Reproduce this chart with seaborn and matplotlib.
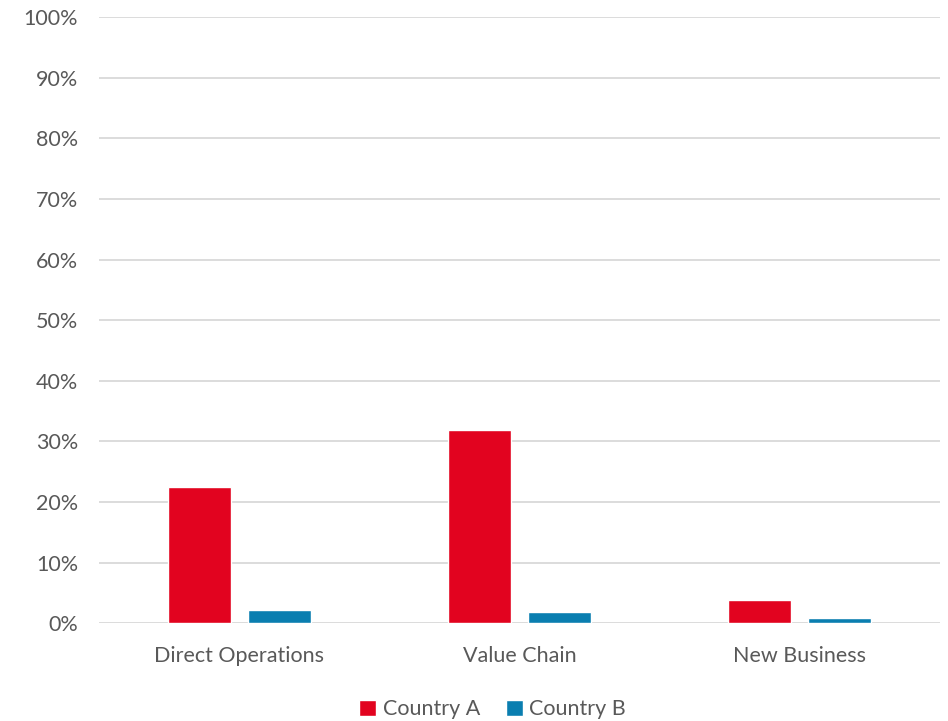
import numpy as np
import pandas as pd
import matplotlib.pyplot as plt
import seaborn as sns
from matplotlib.ticker import PercentFormatter

categories = ["Direct Operations", "Value Chain", "New Business"]
country_a = [22.4, 31.9, 3.9]
country_b = [2.2, 1.9, 0.9]
series = ["Country A", "Country B"]

df = pd.DataFrame({
    "category": categories * 2,
    "value": country_a + country_b,
    "country": [series[0]] * 3 + [series[1]] * 3,
})

sns.set_theme(style="white")
plt.rcParams["font.family"] = ["Lato", "DejaVu Sans"]

fig = plt.figure(figsize=(9.48, 7.21), dpi=100)
ax = fig.add_axes([0.1044, 0.1355, 0.8872, 0.8409])

sns.barplot(data=df, x="category", y="value", hue="country",
            palette=["#E2031F", "#0A7EB0"], saturation=1,
            width=0.57, gap=0.21, ax=ax, zorder=3)

ax.set_ylim(0, 100)
ax.set_xlim(-0.5, 2.5)
ax.set_yticks(np.arange(0, 101, 10))
ax.yaxis.set_major_formatter(PercentFormatter(decimals=0))
ax.grid(axis="y", color="#D9D9D9", linewidth=1.3, zorder=0)
for s in ax.spines.values():
    s.set_visible(False)
ax.set_xlabel("")
ax.set_ylabel("")
ax.tick_params(axis="both", length=0, labelsize=15.5, labelcolor="#595959")
ax.tick_params(axis="x", pad=16)
ax.tick_params(axis="y", pad=15)

ax.legend(loc="center", bbox_to_anchor=(0.468, -0.142), ncol=2,
          frameon=False, fontsize=15.5, labelcolor="#595959",
          handlelength=0.8, handleheight=0.8, handletextpad=0.3,
          columnspacing=1.2, borderpad=0)

fig.savefig("out.png", dpi=100)
